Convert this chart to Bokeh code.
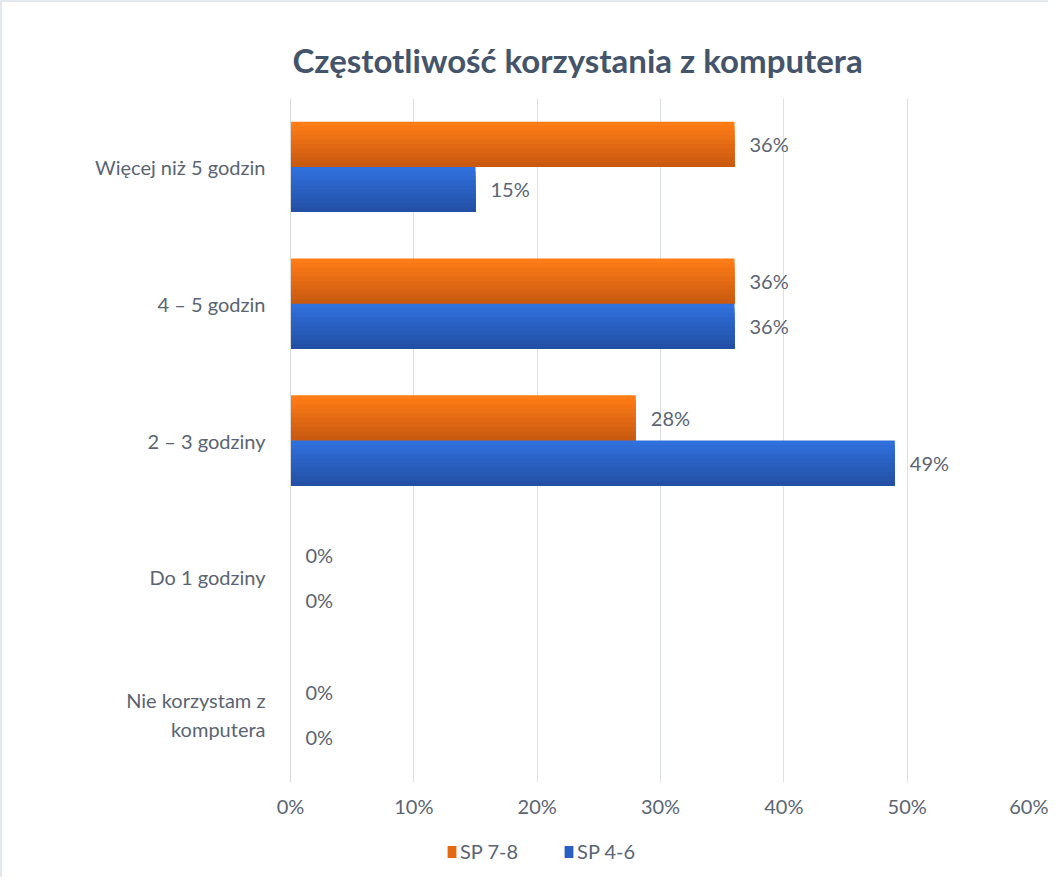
from bokeh.plotting import figure
from bokeh.layouts import column
from bokeh.models import (FactorRange, Range1d, ColumnDataSource, Legend, LegendItem,
                          NumeralTickFormatter, FixedTicker)
from bokeh.transform import dodge
from bokeh.core.properties import value
from bokeh.embed import file_html
from bokeh.resources import INLINE

# ---- data ----
categories = ["Więcej niż 5 godzin", "4 – 5 godzin", "2 – 3 godziny", "Do 1 godziny", "Nie korzystam z\nkomputera"]
series_names = ["SP 7-8", "SP 4-6"]
sp78 = [0.36, 0.36, 0.28, 0.0, 0.0]
sp46 = [0.15, 0.36, 0.49, 0.0, 0.0]
x_ticks = [0.0, 0.1, 0.2, 0.3, 0.4, 0.5, 0.6]

FONT = "Lato"
TXT = "#5A6473"
BORDER = "#E3E7EE"

src = ColumnDataSource(dict(
    cat=categories,
    sp78=sp78,
    sp46=sp46,
    lab78=[f"{round(v*100)}%" for v in sp78],
    lab46=[f"{round(v*100)}%" for v in sp46],
))

W = 1046
H_MAIN = 818
H_LEG = 57

p = figure(
    width=W, height=H_MAIN,
    y_range=FactorRange(factors=list(reversed(categories)), range_padding=0),
    x_range=(0, 0.6),
    output_backend="svg", toolbar_location=None,
    min_border_left=288, min_border_right=18, min_border_top=96, min_border_bottom=20,
    background_fill_color="white", border_fill_color="white",
)

p.title.text = "Częstotliwość korzystania z komputera"
p.title.text_font = FONT
p.title.text_font_style = "bold"
p.title.text_font_size = "33px"
p.title.text_color = "#44546A"
p.title.align = "left"
p.title.offset = 2
p.title.standoff = 37

p.outline_line_color = None

def lerp(c1, c2, t):
    a = [int(c1[i:i+2], 16) for i in (1, 3, 5)]
    b = [int(c2[i:i+2], 16) for i in (1, 3, 5)]
    return "#%02x%02x%02x" % tuple(round(a[i] + (b[i]-a[i])*t) for i in range(3))

BAR_H = 0.33
N = 10
strip = BAR_H / N
grad = {
    "sp78": ("#FF7C17", "#C95A10", 0.5 * BAR_H),
    "sp46": ("#3070DC", "#2350A6", -0.5 * BAR_H),
}
for key, (ctop, cbot, center) in grad.items():
    bottom = center - BAR_H / 2
    for k in range(N):
        top = center + BAR_H / 2 - strip * k
        h = top - bottom
        col = lerp(ctop, cbot, k / (N - 1))
        p.hbar(y=dodge("cat", bottom + h / 2, range=p.y_range), right=key, left=0, height=h,
               source=src, fill_color=col, line_color=None)

# data labels
for key, lab, center in (("sp78", "lab78", 0.5 * BAR_H), ("sp46", "lab46", -0.5 * BAR_H)):
    p.text(x=key, y=dodge("cat", center, range=p.y_range), text=lab, source=src,
           x_offset=15, text_align="left", text_baseline="middle",
           text_font=value(FONT), text_font_size="20px", text_color=TXT)

# axes
p.xaxis.ticker = FixedTicker(ticks=x_ticks)
p.xaxis.formatter = NumeralTickFormatter(format="0%")
p.xaxis.axis_line_color = None
p.xaxis.major_tick_line_color = None
p.xaxis.minor_tick_line_color = None
p.xaxis.major_label_standoff = 5
p.xaxis.major_label_text_font = FONT
p.xaxis.major_label_text_font_size = "20px"
p.xaxis.major_label_text_color = TXT

p.yaxis.axis_line_color = "#D9D9D9"
p.yaxis.major_tick_line_color = None
p.yaxis.minor_tick_line_color = None
p.yaxis.major_label_standoff = 19
p.yaxis.major_label_text_font = FONT
p.yaxis.major_label_text_font_size = "20px"
p.yaxis.major_label_text_color = TXT

p.xgrid.grid_line_color = "#DCE1E8"
p.xgrid.ticker = FixedTicker(ticks=x_ticks)
p.ygrid.grid_line_color = None

# legend strip (separate figure so the legend is not clipped by the main frame)
p2 = figure(
    width=W, height=H_LEG,
    y_range=FactorRange(factors=list(reversed(categories))),
    x_range=Range1d(-2, -1),
    output_backend="svg", toolbar_location=None,
    x_axis_location=None, y_axis_location=None,
    min_border=0, background_fill_color="white", border_fill_color="white",
)
p2.outline_line_color = None
p2.xgrid.visible = False
p2.ygrid.visible = False
r78 = p2.hbar(y="cat", right="sp78", left=0, height=0.3, source=src,
              fill_color="#E36A13", line_color=None)
r46 = p2.hbar(y="cat", right="sp46", left=0, height=0.3, source=src,
              fill_color="#2A5FC2", line_color=None)
r78.visible = False
r46.visible = False
legend = Legend(
    items=[LegendItem(label=series_names[0], renderers=[r78]),
           LegendItem(label=series_names[1], renderers=[r46])],
    orientation="horizontal", location=(156, 14),
    label_text_font=FONT, label_text_font_size="20px", label_text_color=TXT,
    glyph_width=11, glyph_height=15, label_standoff=3, spacing=45,
    border_line_color=None, background_fill_alpha=0, padding=4, margin=0,
)
p2.add_layout(legend, "center")

layout = column(p, p2, spacing=0)
layout.styles = {"border-top": f"2px solid {BORDER}", "border-left": f"2px solid {BORDER}"}

open("out.html", "w").write(file_html(layout, INLINE))
